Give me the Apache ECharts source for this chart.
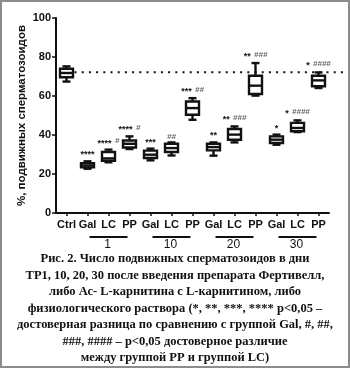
<!DOCTYPE html>
<html>
<head>
<meta charset="utf-8">
<script src="https://cdn.jsdelivr.net/npm/echarts@6/dist/echarts.min.js"></script>
<style>
  html, body { margin: 0; padding: 0; background: #fff; }
  #frame { width: 350px; height: 368px; box-sizing: border-box; border: 2px solid #8c8c8c; position: relative; background: #fff; }
  #chart { position: absolute; left: -2px; top: -2px; width: 350px; height: 368px; }
</style>
</head>
<body>
<div id="frame"><div id="chart"></div></div>
<script>
// Groups and day labels along the x axis
const categories = ['Ctrl', 'Gal', 'LC', 'PP', 'Gal', 'LC', 'PP', 'Gal', 'LC', 'PP', 'Gal', 'LC', 'PP'];
const dayLabels = ['1', '10', '20', '30'];
const yTicks = [0, 20, 40, 60, 80, 100];

// Box statistics per group: [min, Q1, median, Q3, max], % motile sperm
const boxMin    = [67.4, 22.7, 26.0, 32.8, 27.0, 29.5, 47.8, 29.4, 36.2, 60.2, 35.0, 41.5, 64.1];
const boxQ1     = [69.6, 23.4, 26.8, 33.6, 28.2, 31.3, 50.4, 32.1, 37.6, 61.0, 35.9, 41.9, 65.0];
const boxMedian = [71.8, 24.4, 28.0, 35.5, 29.9, 33.3, 53.8, 33.8, 40.2, 65.3, 37.6, 43.6, 68.0];
const boxQ3     = [74.0, 25.6, 31.3, 37.2, 32.0, 35.5, 57.2, 35.5, 43.1, 70.4, 39.3, 46.2, 70.4];
const boxMax    = [75.2, 26.5, 32.5, 39.3, 33.0, 36.2, 58.9, 36.2, 44.4, 76.9, 40.2, 47.5, 72.1];

// Significance marks: vs Gal (stars) and PP vs LC (hashes)
const sigStars  = ['', '****', '****', '****', '***', '', '***', '**', '**', '**', '*', '*', '*'];
const sigHashes = ['', '', '#', '#', '', '##', '##', '', '###', '###', '', '####', '####'];

// Reference level of the control group (dotted line)
const ctrlLevel = 72.2;

const caption = [
  'Рис. 2. Число подвижных сперматозоидов в дни',
  'ТР1, 10, 20, 30 после введения препарата Фертивелл,',
  'либо Ас- L-карнитина с L-карнитином, либо',
  'физиологического раствора (*, **, ***, **** p<0,05 –',
  'достоверная разница по сравнению с группой Gal, #, ##,',
  '###, #### – p<0,05 достоверное различие',
  'между группой PP и группой LC)'
];

const boxData = categories.map((c, i) => [i, boxMin[i], boxQ1[i], boxMedian[i], boxQ3[i], boxMax[i]]);

const INK = '#111';

function renderBox(params, api) {
  const i = api.value(0);
  const pMin = api.coord([i, api.value(1)]);
  const pQ1 = api.coord([i, api.value(2)]);
  const pMed = api.coord([i, api.value(3)]);
  const pQ3 = api.coord([i, api.value(4)]);
  const pMax = api.coord([i, api.value(5)]);
  const cx = pMed[0];
  const hw = 6.5, cap = 4;
  const ls = { stroke: INK, lineWidth: 2.4, fill: null };
  const children = [
    { type: 'line', shape: { x1: cx, y1: pQ3[1], x2: cx, y2: pMax[1] }, style: ls },
    { type: 'line', shape: { x1: cx, y1: pQ1[1], x2: cx, y2: pMin[1] }, style: ls },
    { type: 'line', shape: { x1: cx - cap, y1: pMax[1], x2: cx + cap, y2: pMax[1] }, style: ls },
    { type: 'line', shape: { x1: cx - cap, y1: pMin[1], x2: cx + cap, y2: pMin[1] }, style: ls },
    { type: 'rect', shape: { x: cx - hw, y: pQ3[1], width: hw * 2, height: pQ1[1] - pQ3[1] },
      style: { stroke: INK, lineWidth: 2.4, fill: '#fff' } },
    { type: 'line', shape: { x1: cx - hw, y1: pMed[1], x2: cx + hw, y2: pMed[1] }, style: ls }
  ];
  const stars = sigStars[i], hashes = sigHashes[i];
  if (stars || hashes) {
    const parts = [];
    if (stars) parts.push('{s|' + stars + '}');
    if (hashes) parts.push('{h|' + hashes + '}');
    children.push({
      type: 'text',
      style: {
        x: cx, y: pMax[1] - 2,
        text: parts.join(' '),
        align: 'center', verticalAlign: 'bottom',
        rich: {
          s: { fontFamily: 'Liberation Sans', fontSize: 9, fontWeight: 'bold', fill: '#111', padding: [4, 0, 0, 0] },
          h: { fontFamily: 'Liberation Sans', fontSize: 8, fontWeight: 'bold', fontStyle: 'italic', fill: '#666' }
        }
      }
    });
  }
  return { type: 'group', children };
}

const chart = echarts.init(document.getElementById('chart'), null, { renderer: 'canvas' });

chart.setOption({
  animation: false,
  backgroundColor: 'transparent',
  grid: { left: 56, right: 21, top: 18, bottom: 155, containLabel: false },
  xAxis: {
    type: 'category',
    data: categories,
    axisLine: { lineStyle: { color: INK, width: 2 } },
    axisTick: { show: true, alignWithLabel: true, length: 3, lineStyle: { color: INK, width: 1.5 } },
    axisLabel: { color: '#111', fontFamily: 'Liberation Sans', fontWeight: 'bold', fontSize: 11, margin: 6, interval: 0 },
    splitLine: { show: false }
  },
  yAxis: {
    type: 'value',
    min: 0, max: 100, interval: 20,
    name: '%, подвижных сперматозоидов',
    nameLocation: 'middle',
    nameGap: 28,
    nameMoveOverlap: false,
    nameTextStyle: { color: '#111', fontFamily: 'Liberation Sans', fontWeight: 'bold', fontSize: 11.5 },
    axisLine: { show: true, lineStyle: { color: INK, width: 2 } },
    axisTick: { show: true, length: 4, lineStyle: { color: INK, width: 1.5 } },
    axisLabel: {
      color: '#111', fontFamily: 'Liberation Sans', fontWeight: 'bold', fontSize: 11, margin: 5,
      formatter: v => (yTicks.indexOf(v) >= 0 ? String(v) : '')
    },
    splitLine: { show: false }
  },
  series: [{
    type: 'custom',
    renderItem: renderBox,
    data: boxData,
    encode: { x: 0, y: [1, 2, 3, 4, 5] },
    clip: false,
    z: 3
  }]
});

// Decorations that depend on the axis scales: control level, day brackets, caption
const graphics = [];
const yCtrl = chart.convertToPixel({ yAxisIndex: 0 }, ctrlLevel);
const xCtrl = chart.convertToPixel({ xAxisIndex: 0 }, 0);
graphics.push({
  type: 'line',
  shape: { x1: xCtrl + 8, y1: yCtrl, x2: 346, y2: yCtrl },
  style: { stroke: INK, lineWidth: 2, lineDash: [2, 5.2] },
  z: 1
});
dayLabels.forEach((d, g) => {
  const xc = chart.convertToPixel({ xAxisIndex: 0 }, 2 + g * 3);
  graphics.push({
    type: 'line',
    shape: { x1: xc - 19, y1: 237, x2: xc + 19, y2: 237 },
    style: { stroke: INK, lineWidth: 2 }
  });
  graphics.push({
    type: 'text',
    style: {
      x: xc - 1, y: 245, text: d, align: 'center', verticalAlign: 'middle',
      fontFamily: 'Liberation Sans', fontSize: 12, fill: '#111'
    }
  });
});
graphics.push({
  type: 'text',
  style: {
    x: 175, y: 251,
    text: caption.join('\n'),
    align: 'center', verticalAlign: 'top',
    fontFamily: 'Liberation Serif', fontWeight: 'bold', fontSize: 12.5, lineHeight: 16.5,
    fill: '#111'
  }
});
chart.setOption({ graphic: graphics });
</script>
</body>
</html>
